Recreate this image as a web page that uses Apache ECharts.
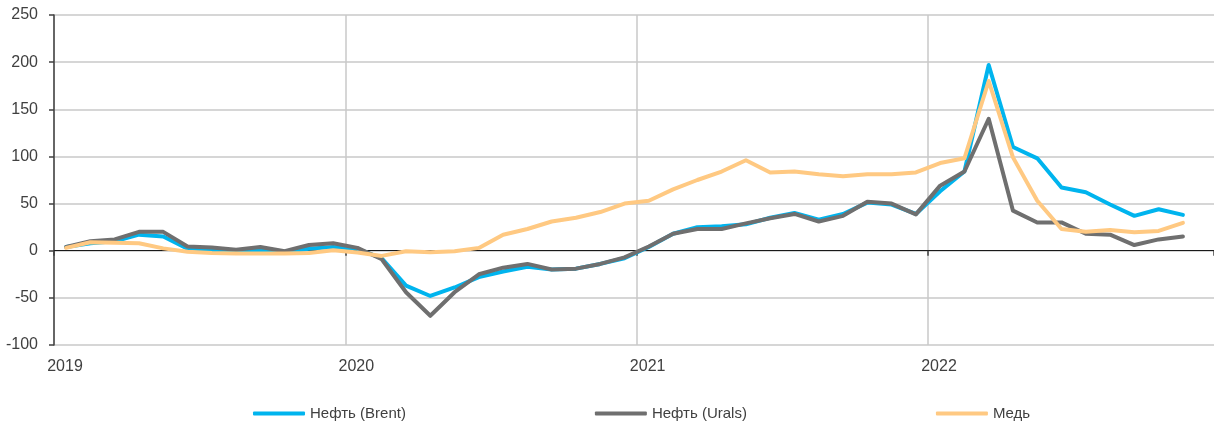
<!DOCTYPE html>
<html>
<head>
<meta charset="utf-8">
<script src="https://cdn.jsdelivr.net/npm/echarts@6/dist/echarts.min.js"></script>
<style>
  html, body { margin: 0; padding: 0; background: #fff; overflow: hidden; }
  #chart { width: 1214px; height: 426px; }
</style>
</head>
<body>
<div id="chart"></div>
<script>
// monthly points, Jan 2019 .. Nov 2022
const months = [
  '2019-01','2019-02','2019-03','2019-04','2019-05','2019-06','2019-07','2019-08','2019-09','2019-10','2019-11','2019-12',
  '2020-01','2020-02','2020-03','2020-04','2020-05','2020-06','2020-07','2020-08','2020-09','2020-10','2020-11','2020-12',
  '2021-01','2021-02','2021-03','2021-04','2021-05','2021-06','2021-07','2021-08','2021-09','2021-10','2021-11','2021-12',
  '2022-01','2022-02','2022-03','2022-04','2022-05','2022-06','2022-07','2022-08','2022-09','2022-10','2022-11'
]
const brent = [
  4, 8, 10, 17, 15, 2, 1, -1, 1, -1, 2, 4,
  2, -8, -37, -48, -39, -28, -22, -17, -20, -19, -14, -8,
  4, 18, 25, 26, 28, 35, 40, 33, 39, 51, 49, 39,
  63, 84, 197, 110, 98, 67, 62, 49, 37, 44, 38
]
const urals = [
  4, 10, 12, 20, 20, 4.5, 3.5, 1, 4, -0.5, 6, 8,
  3, -9, -44, -69, -44, -25, -18, -14, -20, -19, -14, -7,
  4.5, 18, 23, 23, 29, 34.5, 39, 31, 37, 52, 50, 38.5,
  69, 84, 140, 42.5, 30, 30, 18, 17, 6, 12, 15
]
const copper = [
  3, 9, 8.5, 8, 2.5, -1, -2.5, -3, -3, -3, -2.5, 0.5,
  -2, -5.5, -0.5, -1.5, -0.5, 3, 17, 23, 31, 35, 41, 50,
  53, 65, 75, 84, 96, 83, 84, 81, 79, 81, 81, 83,
  93, 98, 180, 99, 53, 23, 20, 22, 19.5, 21, 29.5
]
const seriesNames = ['Нефть (Brent)', 'Нефть (Urals)', 'Медь']
const startYear = 2019

// month offset from Jan 2019, point sits in the middle of its month
function monthPos(m) {
  const [y, mm] = m.split('-').map(Number)
  return (y - startYear) * 12 + (mm - 1) + 0.5
}
function pairs(vals) {
  return vals.map((v, i) => [monthPos(months[i]), v])
}

const chart = echarts.init(document.getElementById('chart'))
const font = '"Liberation Sans", Arial, sans-serif'
const lineStyle = (color) => ({ color: color, width: 4, cap: 'round', join: 'round' })
const xMax = 47.78

chart.setOption({
  animation: false,
  textStyle: { fontFamily: font },
  grid: { left: 54, right: 0, top: 15, bottom: 81 },
  legend: {
    left: 248,
    top: 401,
    itemGap: 189,
    itemWidth: 52,
    itemHeight: 4,
    icon: 'roundRect',
    textStyle: { fontSize: 15, color: '#404040', fontFamily: font },
    data: seriesNames
  },
  xAxis: [
    {
      type: 'value',
      min: 0,
      max: xMax,
      interval: 12,
      position: 'bottom',
      axisLine: { show: false, onZero: false },
      axisTick: { show: false },
      splitLine: { show: true, showMaxLine: false, lineStyle: { color: '#c8c8c8', width: 1.5 } },
      axisLabel: {
        fontSize: 16,
        color: '#404040',
        margin: 14,
        align: 'center',
        padding: [0, 0, 0, 22],
        showMaxLabel: false,
        formatter: (v) => (v % 12 === 0 ? String(startYear + v / 12) : '')
      }
    },
    {
      type: 'value',
      min: 0,
      max: xMax,
      interval: 12,
      position: 'bottom',
      axisLine: { show: true, onZero: true, lineStyle: { color: '#1a1a1a', width: 1.2 } },
      axisTick: { show: true, length: 5, lineStyle: { color: '#404040', width: 1.5 } },
      axisLabel: { show: false },
      splitLine: { show: false }
    }
  ],
  yAxis: {
    type: 'value',
    min: -100,
    max: 250,
    interval: 50,
    axisLine: { show: true, onZero: false, lineStyle: { color: '#404040', width: 1.5 } },
    axisTick: { show: true, length: 5, lineStyle: { color: '#404040', width: 1.5 } },
    splitLine: { show: true, lineStyle: { color: '#c8c8c8', width: 1.5 } },
    axisLabel: { fontSize: 16, color: '#404040', margin: 16 }
  },
  series: [
    {
      name: seriesNames[0],
      type: 'line',
      data: pairs(brent),
      showSymbol: false,
      symbol: 'none',
      lineStyle: lineStyle('#00B4EE'),
      itemStyle: { color: '#00B4EE' }
    },
    {
      name: seriesNames[1],
      type: 'line',
      data: pairs(urals),
      showSymbol: false,
      symbol: 'none',
      lineStyle: lineStyle('#6F6F6F'),
      itemStyle: { color: '#6F6F6F' }
    },
    {
      name: seriesNames[2],
      type: 'line',
      data: pairs(copper),
      showSymbol: false,
      symbol: 'none',
      lineStyle: lineStyle('#FFC982'),
      itemStyle: { color: '#FFC982' }
    }
  ]
})
</script>
</body>
</html>
